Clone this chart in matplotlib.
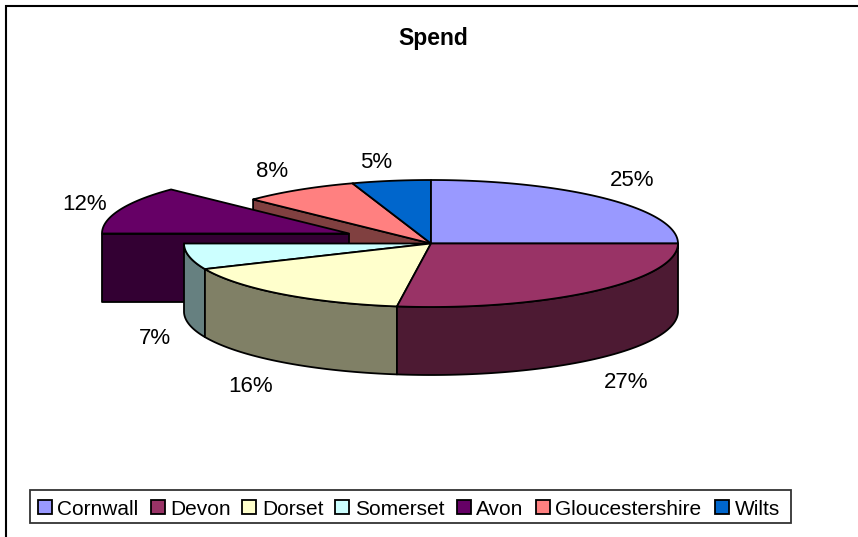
import numpy as np
import matplotlib
matplotlib.use("Agg")
import matplotlib.pyplot as plt
from matplotlib.patches import Polygon, Rectangle

categories = ["Cornwall", "Devon", "Dorset", "Somerset", "Avon", "Gloucestershire", "Wilts"]
values = [25.0, 27.2, 16.2, 6.6, 12.2, 7.65, 5.15]
pct_labels = ["25%", "27%", "16%", "7%", "12%", "8%", "5%"]
colors = ["#9999FF", "#993366", "#FFFFCC", "#CCFFFF", "#660066", "#FF8080", "#0066CC"]
side_colors = ["#4D4D80", "#4D1A33", "#808066", "#668080", "#330033", "#804040", "#003366"]
title = "Spend"

W, H = 858, 537
CX, CY, RX, RY, DEPTH = 431, 243.5, 247, 63.5, 68
EXPLODE = {"Avon": (-82, -10)}
label_pos = [(632, 185.5), (626, 388.5), (251, 391.5), (155, 343.5), (85, 210.5), (272.5, 177), (376, 168)]
legend_swatch_x = [37.5, 151, 242, 335, 457, 536, 715]
legend_text_x = [57, 170, 262, 355, 476, 555, 735]
FONT = "Liberation Sans"

fig = plt.figure(figsize=(W / 100, H / 100), dpi=100)
ax = fig.add_axes([0, 0, 1, 1])
ax.set_xlim(0, W)
ax.set_ylim(H, 0)
ax.axis("off")

ax.plot([6, 6, 858], [537, 6, 6], color="black", lw=1.5, solid_joinstyle="miter")

total = sum(values)
edges = 90 - 360 * np.cumsum([0] + values) / total
wedges = {}
for i, c in enumerate(categories):
    wedges[c] = (edges[i], edges[i + 1], i)


def pt(a, dx=0, dy=0):
    a = np.radians(a)
    return np.column_stack([CX + RX * np.cos(a) + dx, CY - RY * np.sin(a) + dy])


def top(name, z):
    a0, a1, i = wedges[name]
    dx, dy = EXPLODE.get(name, (0, 0))
    arc = pt(np.linspace(a0, a1, 80), dx, dy)
    poly = np.vstack([[CX + dx, CY + dy], arc])
    ax.add_patch(Polygon(poly, closed=True, fc=colors[i], ec="black", lw=1.3, joinstyle="round", zorder=z))


def wall(name, z):
    a0, a1, i = wedges[name]
    # only the front half of the rim is visible
    lo, hi = max(a1, -180), min(a0, 0)
    if hi <= lo:
        return
    dx, dy = EXPLODE.get(name, (0, 0))
    arc = pt(np.linspace(hi, lo, 80), dx, dy)
    low = arc[::-1] + [0, DEPTH]
    ax.add_patch(Polygon(np.vstack([arc, low]), closed=True, fc=side_colors[i], ec="black", lw=1.3, joinstyle="round", zorder=z))


def cut(name, angle, z):
    i = wedges[name][2]
    dx, dy = EXPLODE.get(name, (0, 0))
    p = pt(np.array([angle]), dx, dy)[0]
    c = np.array([CX + dx, CY + dy])
    poly = [p, c, c + [0, DEPTH], p + [0, DEPTH]]
    ax.add_patch(Polygon(poly, closed=True, fc=side_colors[i], ec="black", lw=1.3, joinstyle="round", zorder=z))


# back slices first, then the exploded one, then the front
cut("Gloucestershire", wedges["Gloucestershire"][0], 1)
top("Gloucestershire", 2)
top("Wilts", 2)
top("Cornwall", 2)
cut("Avon", -180, 3)
top("Avon", 4)
wall("Somerset", 5)
wall("Dorset", 5)
wall("Devon", 5)
top("Somerset", 6)
top("Dorset", 6)
top("Devon", 6)

ax.text(433, 45, title, ha="center", va="baseline", family=FONT, fontsize=16.5, fontweight="bold", color="black", zorder=10)
for (x, y), s in zip(label_pos, pct_labels):
    ax.text(x, y, s, ha="center", va="baseline", family=FONT, fontsize=16, color="black", zorder=10)

ax.add_patch(Rectangle((30, 490), 761, 33, fc="white", ec="#333333", lw=1.3, zorder=10))
for c, col, sx, tx in zip(categories, colors, legend_swatch_x, legend_text_x):
    ax.add_patch(Rectangle((sx, 500), 14, 14, fc=col, ec="black", lw=1.3, zorder=11))
    ax.text(tx, 515, c, ha="left", va="baseline", family=FONT, fontsize=15, color="black", zorder=11)

fig.savefig("out.png", dpi=100)
